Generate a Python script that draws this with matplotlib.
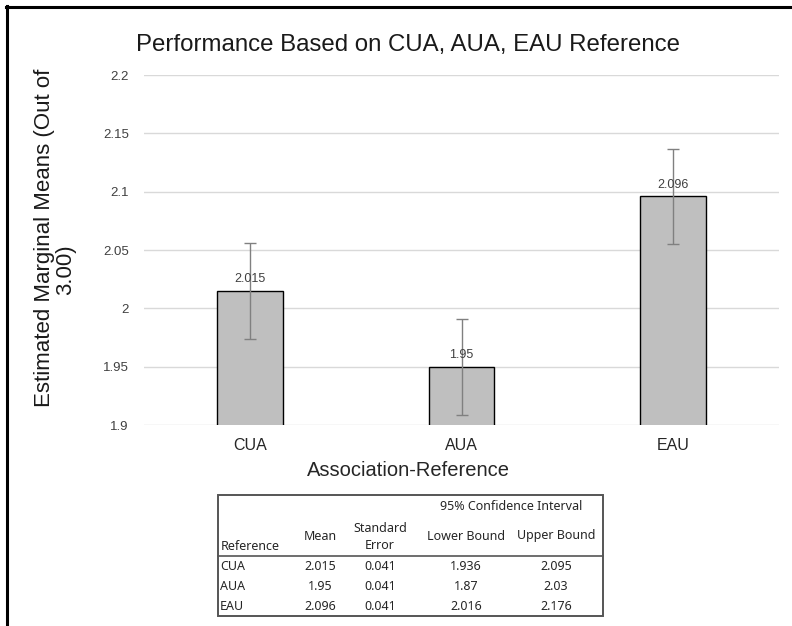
import matplotlib.pyplot as plt
from matplotlib.lines import Line2D
from matplotlib.patches import Rectangle

# donnees
categories = ['CUA', 'AUA', 'EAU']
means = [2.015, 1.95, 2.096]
std_err = [0.041, 0.041, 0.041]
lower = ['1.936', '1.87', '2.016']
upper = ['2.095', '2.03', '2.176']
mean_txt = ['2.015', '1.95', '2.096']
se_txt = ['0.041', '0.041', '0.041']
yticks = [1.9, 1.95, 2.0, 2.05, 2.1, 2.15, 2.2]
ytick_labels = ['1.9', '1.95', '2', '2.05', '2.1', '2.15', '2.2']

W, H = 792, 626
fig = plt.figure(figsize=(W / 100, H / 100), dpi=100)
plt.rcParams['font.family'] = ['Liberation Sans', 'DejaVu Sans']

def fx(px):
    return px / W

def fy(py):
    return 1 - py / H

# bord noir (capture d'ecran)
fig.add_artist(Line2D([fx(7), fx(7)], [0, fy(6)], color='black', lw=2.2))
fig.add_artist(Line2D([fx(6), 1], [fy(7), fy(7)], color='black', lw=2.2))

ax = fig.add_axes([fx(144), fy(425), fx(779) - fx(144), fy(75) - fy(425)])
x = list(range(len(categories)))
ax.bar(x, means, width=0.31, color='#bfbfbf', edgecolor='black', linewidth=1, zorder=3)
ax.errorbar(x, means, yerr=std_err, fmt='none', ecolor='#808080', elinewidth=1,
            capsize=4.3, capthick=1, zorder=4)
for i, m in enumerate(means):
    ax.annotate(mean_txt[i], (x[i], m), xytext=(0, 4), textcoords='offset points',
                ha='center', va='bottom', fontsize=9, color='#404040', zorder=5)

ax.set_xlim(-0.5, 2.5)
ax.set_ylim(1.9, 2.2)
ax.set_yticks(yticks)
ax.set_yticklabels(ytick_labels)
ax.set_xticks(x)
ax.set_xticklabels(categories)
ax.tick_params(axis='y', length=0, labelsize=9.5, colors='#404040', pad=11)
ax.tick_params(axis='x', length=0, labelsize=11.5, colors='#262626', pad=9)
ax.grid(axis='y', color='#d9d9d9', lw=1, zorder=0)
for s in ax.spines.values():
    s.set_visible(False)

fig.text(fx(408), fy(470), 'Association-Reference', ha='center', va='center',
         fontsize=14.5, color='#262626')
fig.text(fx(408), fy(45), 'Performance Based on CUA, AUA, EAU Reference',
         ha='center', va='center', fontsize=17.3, color='#1a1a1a')
fig.text(fx(45), fy(238), 'Estimated Marginal Means (Out of', rotation=90,
         ha='center', va='center', fontsize=16, color='#1a1a1a')
fig.text(fx(66), fy(270), '3.00)', rotation=90,
         ha='center', va='center', fontsize=16, color='#1a1a1a')

# tableau
tx0, tx1, ty0, ty1 = 218, 603, 495, 616
tab = fig.add_axes([fx(tx0), fy(ty1), fx(tx1) - fx(tx0), fy(ty0) - fy(ty1)])
tab.set_xlim(tx0, tx1)
tab.set_ylim(ty1, ty0)
tab.axis('off')
tab.add_patch(Rectangle((tx0, ty0), tx1 - tx0, ty1 - ty0, fill=False,
                        edgecolor='#555555', lw=1.4, clip_on=False))
tab.plot([tx0, tx1], [556, 556], color='#555555', lw=1.2, clip_on=False)

tf = dict(fontsize=9, color='#262626', family=['Noto Sans', 'DejaVu Sans'])
col_x = [320, 380, 466, 556]
tab.text(511, 506, '95% Confidence Interval', ha='center', va='center', **tf)
tab.text(221, 547, 'Reference', ha='left', va='center', **tf)
tab.text(col_x[0], 537, 'Mean', ha='center', va='center', **tf)
tab.text(col_x[1], 537, 'Standard\nError', ha='center', va='center', linespacing=1.35, **tf)
tab.text(col_x[2], 536, 'Lower Bound', ha='center', va='center', **tf)
tab.text(col_x[3], 536, 'Upper Bound', ha='center', va='center', **tf)
row_y = [567, 587, 607]
for i, c in enumerate(categories):
    tab.text(220, row_y[i], c, ha='left', va='center', **tf)
    for j, v in enumerate([mean_txt[i], se_txt[i], lower[i], upper[i]]):
        tab.text(col_x[j], row_y[i], v, ha='center', va='center', **tf)

fig.savefig('out.png', dpi=100)
